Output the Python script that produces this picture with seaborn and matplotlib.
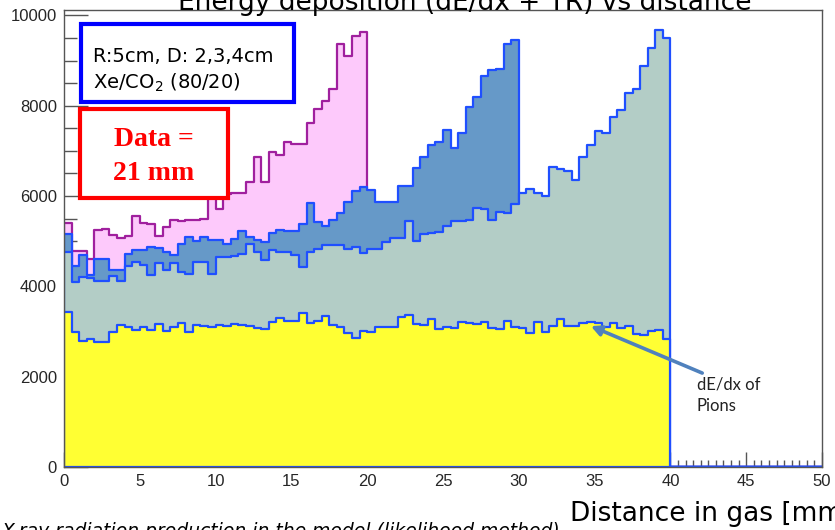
import numpy as np
import pandas as pd
import matplotlib
matplotlib.use("Agg")
import matplotlib.pyplot as plt
from matplotlib.patches import Rectangle
import seaborn as sns

# Energy deposited per 0.5 mm slice of gas, for three radiator-to-chamber
# distances (D = 2, 3, 4 cm) and for pions (dE/dx only).
bin_width = 0.5
pink_d2 = [5410, 4790, 4780, 4600, 5240, 5260, 5130, 5080, 5110, 5550,
           5400, 5375, 5110, 5320, 5480, 5450, 5460, 5460, 5500, 6050,
           5720, 6050, 6070, 6070, 6310, 6860, 6310, 6970, 6900, 7200,
           7160, 7160, 7620, 7930, 8100, 8380, 9370, 9090, 9540, 9630]
blue_d3 = [5169, 4450, 4705, 4250, 4616, 4616, 4358, 4358, 4727, 4800,
           4800, 4873, 4840, 4763, 4705, 4948, 5095, 4999, 5095, 5021,
           5021, 4933, 5059, 5227, 5095, 5021, 4984, 5183, 5257, 5220,
           5220, 5390, 5847, 5426, 5338, 5460, 5626, 5869, 6112, 6200,
           6128, 5860, 5877, 5877, 6216, 6216, 6630, 6864, 7123, 7196,
           7470, 7072, 7395, 7970, 8191, 8650, 8800, 8819, 9357, 9461]
grey_d4 = [4750, 4100, 4196, 4174, 4121, 4121, 4232, 4121, 4446, 4542,
           4468, 4247, 4520, 4373, 4520, 4320, 4284, 4542, 4542, 4284,
           4652, 4652, 4667, 4727, 4948, 4763, 4579, 4800, 4763, 4763,
           4690, 4431, 4763, 4837, 4911, 4926, 4911, 4822, 4874, 4742,
           4822, 4822, 4971, 5060, 5060, 5441, 4999, 5154, 5192, 5213,
           5338, 5441, 5441, 5464, 5736, 5722, 5464, 5648, 5633, 5833,
           6068, 6165, 6068, 6002, 6643, 6607, 6555, 6364, 6864, 7123,
           7432, 7395, 7749, 7897, 8280, 8361, 8877, 9275, 9667, 9497]
yellow_pions = [3440, 2980, 2787, 2824, 2772, 2772, 2993, 3141, 3110, 3040,
                3110, 3030, 3156, 3020, 3104, 3193, 2993, 3141, 3126, 3104,
                3141, 3119, 3156, 3141, 3119, 3082, 3045, 3215, 3303, 3229,
                3229, 3400, 3178, 3229, 3340, 3141, 3104, 2957, 2846, 3008,
                2993, 3104, 3104, 3104, 3311, 3362, 3156, 3141, 3274, 3045,
                3104, 3067, 3200, 3178, 3156, 3215, 3082, 3045, 3230, 3104,
                3082, 2971, 3200, 2993, 3119, 3274, 3119, 3111, 3178, 3200,
                3178, 3104, 3178, 3067, 3111, 2935, 2920, 3008, 3030, 2831]

x_ticks = [0, 5, 10, 15, 20, 25, 30, 35, 40, 45, 50]
y_ticks = [0, 2000, 4000, 6000, 8000, 10000]

W, H = 835, 530
sns.set_style("ticks")
plt.rcParams["font.family"] = ["DejaVu Sans"]

fig = plt.figure(figsize=(W / 100, H / 100), dpi=100)
ax = fig.add_axes([64 / W, 1 - 467 / H, (822 - 64) / W, (467 - 9.5) / H])


def frame(values):
    centers = (np.arange(len(values)) + 0.5) * bin_width
    return pd.DataFrame({"distance": centers, "edep": values})


layers = [
    (pink_d2, "#fdc9fb", "#a0209e"),
    (blue_d3, "#6699c8", "#1f4fff"),
    (grey_d4, "#b3cdc6", "#1f4fff"),
    (yellow_pions, "#ffff33", "#1f4fff"),
]
for k, (vals, face, edge) in enumerate(layers):
    sns.histplot(data=frame(vals), x="distance", weights="edep",
                 bins=100, binrange=(0, 50), element="step", fill=True,
                 color=face, edgecolor=edge, linewidth=1.6, alpha=1,
                 ax=ax, zorder=1 + k * 0.1)

ax.set_xlim(0, 50)
ax.set_ylim(0, 10130)
ax.set_xlabel("")
ax.set_ylabel("")
ax.set_axisbelow(True)
ax.set_xticks(x_ticks)
ax.set_xticklabels([str(t) for t in x_ticks])
ax.set_yticks(y_ticks)
ax.set_yticklabels([str(t) for t in y_ticks])
ax.set_xticks(np.arange(0, 50.01, 0.5), minor=True)
ax.set_yticks(np.arange(0, 10001, 500), minor=True)
ax.tick_params(axis="both", which="both", direction="in", color="#555555",
               width=1, labelsize=12, pad=5)
ax.tick_params(axis="x", which="major", length=11)
ax.tick_params(axis="x", which="minor", length=5)
ax.tick_params(axis="y", which="major", length=17)
ax.tick_params(axis="y", which="minor", length=9)
for lab in ax.get_xticklabels() + ax.get_yticklabels():
    lab.set_fontfamily("Liberation Sans")
for side in ["left", "right", "top", "bottom"]:
    ax.spines[side].set_visible(True)
    ax.spines[side].set_color("#555555")
    ax.spines[side].set_linewidth(1)

# Arrow pointing at the pion dE/dx curve
ax.annotate("", xy=(34.75, 3120), xytext=(42.1, 2080),
            arrowprops=dict(arrowstyle="-|>,head_length=0.6,head_width=0.3",
                            color="#4f81bd", lw=2.6, shrinkA=0, shrinkB=0))
fig.text(697 / W, 1 - 376 / H, "dE/dx of\nPions", ha="left", va="top",
         fontsize=12, family="Lato", linespacing=1.45, color="#222222")

# Title and axis title (clipped at the figure edges)
fig.text(465 / W, 1 - 10 / H, "Energy deposition (dE/dx + TR) vs distance",
         ha="center", va="baseline", fontsize=19, color="black")
fig.text(570 / W, 1 - 521 / H, "Distance in gas [mm]", ha="left",
         va="baseline", fontsize=19, color="black")
fig.text(2 / W, 1 - 537 / H,
         "X-ray radiation production in the model (likelihood method)",
         ha="left", va="baseline", fontsize=13.5, style="italic",
         color="black")

# Setup box
fig.patches.append(Rectangle((81 / W, 1 - 102 / H), 213 / W, 78 / H,
                             transform=fig.transFigure, fill=True,
                             facecolor="white", edgecolor="#0000ff",
                             linewidth=3.0, zorder=5))
fig.text(93 / W, 1 - 57 / H, "R:5cm, D: 2,3,4cm", ha="left",
         va="center", fontsize=14, color="black", zorder=6)
fig.text(93 / W, 1 - 83 / H, "Xe/CO$_2$ (80/20)", ha="left",
         va="center", fontsize=14, color="black", zorder=6)

# Measured value box
fig.patches.append(Rectangle((80 / W, 1 - 198 / H), 148 / W, 89 / H,
                             transform=fig.transFigure, fill=True,
                             facecolor="white", edgecolor="#ff0000",
                             linewidth=3.0, zorder=5))
fig.text(154 / W, 1 - 140 / H, "Data =", ha="center", va="center",
         fontsize=20, family="Liberation Serif", weight="bold",
         color="#ff0000", zorder=6)
fig.text(154 / W, 1 - 173 / H, "21 mm", ha="center", va="center",
         fontsize=20, family="Liberation Serif", weight="bold",
         color="#ff0000", zorder=6)

fig.savefig("out.png", dpi=100)
